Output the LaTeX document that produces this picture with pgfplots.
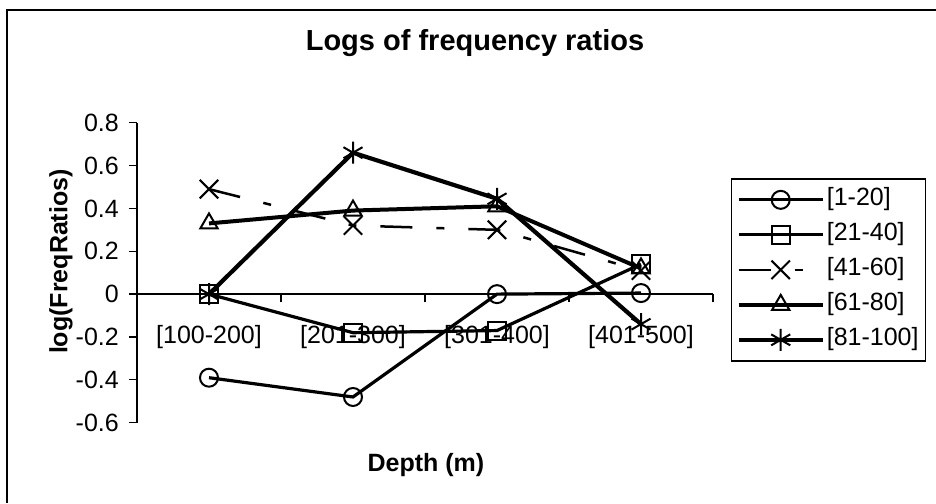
\documentclass[border=0pt]{standalone}
\usepackage{fontspec}
\setmainfont{Liberation Sans}
\usepackage{pgfplots}
\pgfplotsset{compat=1.18}
\begin{document}
\begin{tikzpicture}
\useasboundingbox (0pt,0pt) rectangle (936pt,503pt);
\fill[white] (0pt,0pt) rectangle (936pt,503pt);
\draw[line width=1.8pt] (7pt,0pt) -- (7pt,493pt) -- (936pt,493pt);
\begin{axis}[
  at={(137pt,80.3pt)}, anchor=south west,
  scale only axis, width=576pt, height=300pt,
  xmin=-0.5, xmax=3.5, ymin=-0.6, ymax=0.8,
  clip=false,
  axis x line=middle, axis y line=left,
  axis line style={-, line width=1.3pt},
  every inner x axis line/.append style={-},
  every outer y axis line/.append style={-},
  xtick={0,1,2,3},
  xticklabels={{[100-200]},{[201-300]},{[301-400]},{[401-500]}},
  minor xtick={-0.5,0.5,1.5,2.5,3.5},
  major x tick style={draw=none},
  ytick={-0.6,-0.4,-0.2,0,0.2,0.4,0.6,0.8},
  yticklabels={-0.6,-0.4,-0.2,0,0.2,0.4,0.6,0.8},
  tick align=outside,
  major tick length=8pt, minor tick length=8pt,
  tick style={line width=1.3pt, black},
  ticklabel style={font=\fontsize{25pt}{29pt}\selectfont},
  xticklabel style={anchor=base, yshift=-41pt},
  yticklabel style={anchor=east, inner sep=0pt, xshift=-10pt},
  title={Logs of frequency ratios},
  title style={at={(axis description cs:0.5868,1.2223)}, anchor=base, font=\fontsize{29pt}{34pt}\selectfont\bfseries},
  xlabel={Depth (m)},
  xlabel style={at={(axis description cs:0.5017,-0.1633)}, anchor=base, font=\fontsize{25pt}{29pt}\selectfont\bfseries},
  ylabel={log(FreqRatios)},
  every axis y label/.style={at={(axis description cs:-0.132,0.537)}, anchor=center, rotate=90, font=\fontsize{25pt}{29pt}\selectfont\bfseries},
  legend style={at={(axis description cs:1.0312,0.815)}, anchor=north west, draw=black, line width=1.3pt, fill=white,
    inner xsep=5pt, inner ysep=7pt, row sep=7pt,
    font=\fontsize{25pt}{29pt}\selectfont,
    nodes={inner sep=2pt, text height=18pt, text depth=6pt}},
  legend cell align=left,
  legend image code/.code={\draw[mark repeat=2,mark phase=2,#1] plot coordinates {(0pt,0pt) (42pt,0pt) (84pt,0pt)};},
]
\addplot[black, line width=3.2pt, mark=o, mark size=9pt, mark options={solid, line width=2pt, fill=white}]
  coordinates {(0,-0.39) (1,-0.48) (2,0) (3,0.005)};
\addlegendentry{[1-20]}
\addplot[black, line width=3.2pt, mark=square, mark size=9pt, mark options={solid, line width=2pt, fill=white}]
  coordinates {(0,0) (1,-0.18) (2,-0.17) (3,0.14)};
\addlegendentry{[21-40]}
\addplot[black, line width=2.5pt, dash pattern=on 32pt off 24pt on 8pt off 24pt, mark=x, mark size=13pt, mark options={solid, line width=2pt}]
  coordinates {(0,0.49) (1,0.32) (2,0.30) (3,0.11)};
\addlegendentry{[41-60]}
\addplot[black, line width=4pt, mark=triangle, mark size=10pt, mark options={solid, line width=2pt, fill=white}]
  coordinates {(0,0.33) (1,0.39) (2,0.41) (3,0.12)};
\addlegendentry{[61-80]}
\addplot[black, line width=4.2pt, mark=asterisk, mark size=11pt, mark options={solid, line width=2pt}]
  coordinates {(0,0) (1,0.66) (2,0.445) (3,-0.14)};
\addlegendentry{[81-100]}
\end{axis}
\end{tikzpicture}
\end{document}
